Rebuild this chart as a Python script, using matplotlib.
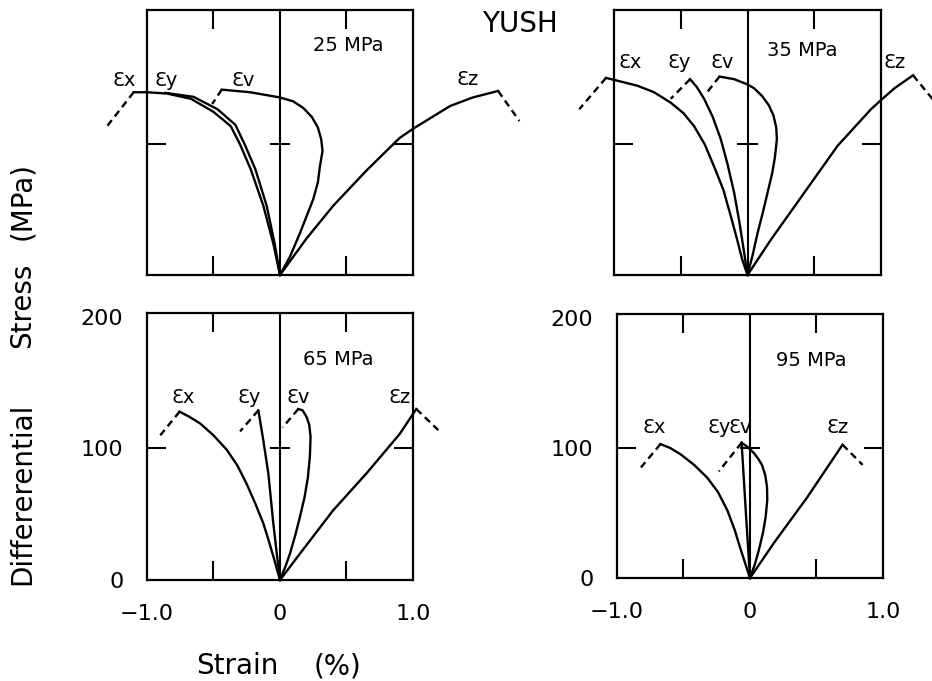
import matplotlib.pyplot as plt

plt.rcParams['font.family'] = ['DejaVu Sans']

# loading paths as (strain %, differential stress MPa), origin -> peak
# confining pressure 25 MPa
ex_25 = [(0, 0), (-0.05, 24), (-0.125, 53), (-0.22, 81), (-0.30, 100), (-0.37, 114),
         (-0.50, 125), (-0.67, 135), (-0.85, 139), (-1.0, 140), (-1.10, 140)]
ey_25 = [(0, 0), (-0.04, 24), (-0.10, 53), (-0.185, 81), (-0.265, 100), (-0.335, 115),
         (-0.47, 127), (-0.65, 136.5), (-0.86, 139.5)]
ev_25 = [(0, 0), (0.075, 14), (0.15, 32), (0.20, 45), (0.25, 58), (0.285, 71), (0.30, 83),
         (0.32, 95), (0.31, 104), (0.285, 113), (0.24, 121), (0.175, 128), (0.10, 133),
         (0, 136), (-0.225, 140), (-0.4375, 142)]
ez_25 = [(0, 0), (0.2, 28), (0.40, 53), (0.65, 80), (0.90, 105), (1.0, 112), (1.28, 129.5),
         (1.45, 136), (1.64, 141)]

# confining pressure 35 MPa
ex_35 = [(0, 0), (-0.04, 12), (-0.08, 28), (-0.125, 45), (-0.18, 65), (-0.25, 83),
         (-0.32, 100), (-0.40, 114), (-0.48, 124), (-0.575, 132), (-0.70, 140),
         (-0.825, 145), (-1.02, 150), (-1.06, 151)]
ey_35 = [(0, 0), (-0.025, 17), (-0.06, 40), (-0.10, 63), (-0.15, 85), (-0.20, 104),
         (-0.26, 121), (-0.325, 135), (-0.38, 144), (-0.43, 150)]
ev_35 = [(0, 0), (0.04, 16), (0.075, 32), (0.115, 48), (0.15, 63), (0.185, 78), (0.205, 90),
         (0.22, 104), (0.215, 113), (0.195, 122), (0.16, 130), (0.11, 137), (0.05, 143),
         (0, 146), (-0.10, 150), (-0.21, 152)]
ez_35 = [(0, 0), (0.175, 27), (0.425, 63), (0.675, 99), (0.925, 127), (1.0, 134),
         (1.10, 143), (1.24, 153)]

# confining pressure 65 MPa
ex_65 = [(0, 0), (-0.05, 18), (-0.085, 30), (-0.125, 43), (-0.185, 58), (-0.25, 73),
         (-0.32, 87), (-0.40, 99), (-0.50, 110), (-0.60, 119), (-0.68, 124), (-0.755, 128)]
ey_65 = [(0, 0), (-0.0125, 10), (-0.05, 43), (-0.0875, 81), (-0.125, 106), (-0.1625, 129)]
ev_65 = [(0, 0), (0.04, 10), (0.075, 20), (0.115, 34), (0.15, 48), (0.185, 63), (0.21, 78),
         (0.225, 94), (0.23, 109), (0.22, 118), (0.20, 124), (0.17, 129), (0.1375, 130)]
ez_65 = [(0, 0), (0.15, 20), (0.40, 53), (0.65, 81), (0.90, 111), (1.025, 130)]

# confining pressure 95 MPa
ex_95 = [(0, 0), (-0.035, 11), (-0.07, 22), (-0.115, 37), (-0.17, 52), (-0.24, 66),
         (-0.32, 77), (-0.42, 87), (-0.52, 95), (-0.60, 100), (-0.673, 103)]
ey_95 = [(0, 0), (-0.033, 54), (-0.063, 104)]
ev_95 = [(0, 0), (0.035, 10), (0.068, 22), (0.098, 35), (0.118, 47), (0.13, 60), (0.128, 70),
         (0.115, 79), (0.09, 87), (0.06, 92), (0.03, 96), (-0.02, 101), (-0.063, 104)]
ez_95 = [(0, 0), (0.18, 27), (0.43, 62), (0.696, 102.5)]

# post-peak drop end points (dashed), None = not drawn
ex_25_drop, ey_25_drop, ev_25_drop, ez_25_drop = (-1.30, 114), None, (-0.51, 131), (1.80, 118)
ex_35_drop, ey_35_drop, ev_35_drop, ez_35_drop = (-1.26, 127), (-0.575, 135), (-0.31, 139), (1.40, 133)
ex_65_drop, ey_65_drop, ev_65_drop, ez_65_drop = (-0.90, 110), (-0.30, 113), (0.02, 116), (1.19, 114)
ex_95_drop, ey_95_drop, ev_95_drop, ez_95_drop = (-0.82, 85), (-0.234, 82), None, (0.847, 87)

pressures = [25, 35, 65, 95]
curve_names = ['x', 'y', 'v', 'z']
x_ticklabels = ['\u22121.0', '0', '1.0']
y_ticklabels = ['0', '100', '200']

curves = {
    25: [(ex_25, ex_25_drop), (ey_25, ey_25_drop), (ev_25, ev_25_drop), (ez_25, ez_25_drop)],
    35: [(ex_35, ex_35_drop), (ey_35, ey_35_drop), (ev_35, ev_35_drop), (ez_35, ez_35_drop)],
    65: [(ex_65, ex_65_drop), (ey_65, ey_65_drop), (ev_65, ev_65_drop), (ez_65, ez_65_drop)],
    95: [(ex_95, ex_95_drop), (ey_95, ey_95_drop), (ev_95, ev_95_drop), (ez_95, ez_95_drop)],
}

# axes boxes in figure fraction
boxes = {
    25: [0.1577, 0.5962, 0.2854, 0.3891],
    35: [0.6588, 0.5962, 0.2865, 0.3891],
    65: [0.1577, 0.1483, 0.2854, 0.3921],
    95: [0.6620, 0.1512, 0.2854, 0.3877],
}

# where the curve names and the pressure tag sit (data coords)
label_xy = {
    25: [(-1.175, 149), (-0.855, 149), (-0.28, 149), (1.41, 150)],
    35: [(-0.88, 163), (-0.51, 163), (-0.19, 163), (1.10, 163)],
    65: [(-0.73, 139), (-0.235, 139), (0.14, 139), (0.90, 139)],
    95: [(-0.72, 116), (-0.23, 116), (-0.07, 116), (0.66, 116)],
}
tag_xy = {25: (0.51, 176), 35: (0.41, 172), 65: (0.44, 168), 95: (0.46, 167)}

fig = plt.figure(figsize=(9.32, 6.81), dpi=100)
LW = 1.7

for p in pressures:
    ax = fig.add_axes(boxes[p])
    ax.set_xlim(-1, 1)
    ax.set_ylim(0, 203)
    for s in ax.spines.values():
        s.set_linewidth(1.6)

    ax.axvline(0, color='k', lw=1.5)
    ax.plot([-0.07, 0.07], [100, 100], color='k', lw=1.5)

    for pts, drop in curves[p]:
        xs = [q[0] for q in pts]
        ys = [q[1] for q in pts]
        ax.plot(xs, ys, color='k', lw=LW, clip_on=False, solid_joinstyle='round')
        if drop is not None:
            ax.plot([xs[-1], drop[0]], [ys[-1], drop[1]], color='k', lw=LW,
                    ls=(0, (3, 2)), clip_on=False)

    for name, (lx, ly) in zip(curve_names, label_xy[p]):
        ax.text(lx, ly, '\u0190' + name, ha='center', va='center', fontsize=14)
    ax.text(tag_xy[p][0], tag_xy[p][1], f'{p} MPa', ha='center', va='center', fontsize=14)

    ax.set_xticks([-1, 0, 1])
    ax.set_xticks([-0.5, 0.5], minor=True)
    ax.set_yticks([0, 100, 200])
    ax.set_yticks([100], minor=True)
    ax.yaxis.remove_overlapping_locs = False
    ax.tick_params(which='major', length=0)
    ax.tick_params(which='minor', direction='in', length=14, width=1.5,
                   top=True, bottom=True, left=True, right=True)
    if p in (65, 95):
        ax.set_xticklabels(x_ticklabels)
        ax.set_yticklabels(y_ticklabels)
        ax.tick_params(axis='x', which='major', labelsize=16, pad=17)
        ax.tick_params(axis='y', which='major', labelsize=16, pad=17)
    else:
        ax.tick_params(which='both', labelbottom=False, labelleft=False)

fig.text(520 / 932, 1 - 23.5 / 681, 'YUSH', ha='center', va='center', fontsize=20)
fig.text(22 / 932, 1 - 201.5 / 681, '(MPa)', rotation=90, ha='center', va='center', fontsize=20)
fig.text(22 / 932, 1 - 305 / 681, 'Stress', rotation=90, ha='center', va='center', fontsize=20)
fig.text(22 / 932, 1 - 493.5 / 681, 'Differerential', rotation=90, ha='center', va='center', fontsize=20)
fig.text(237.5 / 932, 1 - 666 / 681, 'Strain', ha='center', va='center', fontsize=20)
fig.text(338 / 932, 1 - 666 / 681, '(%)', ha='center', va='center', fontsize=20)

fig.savefig('out.png', dpi=100)
